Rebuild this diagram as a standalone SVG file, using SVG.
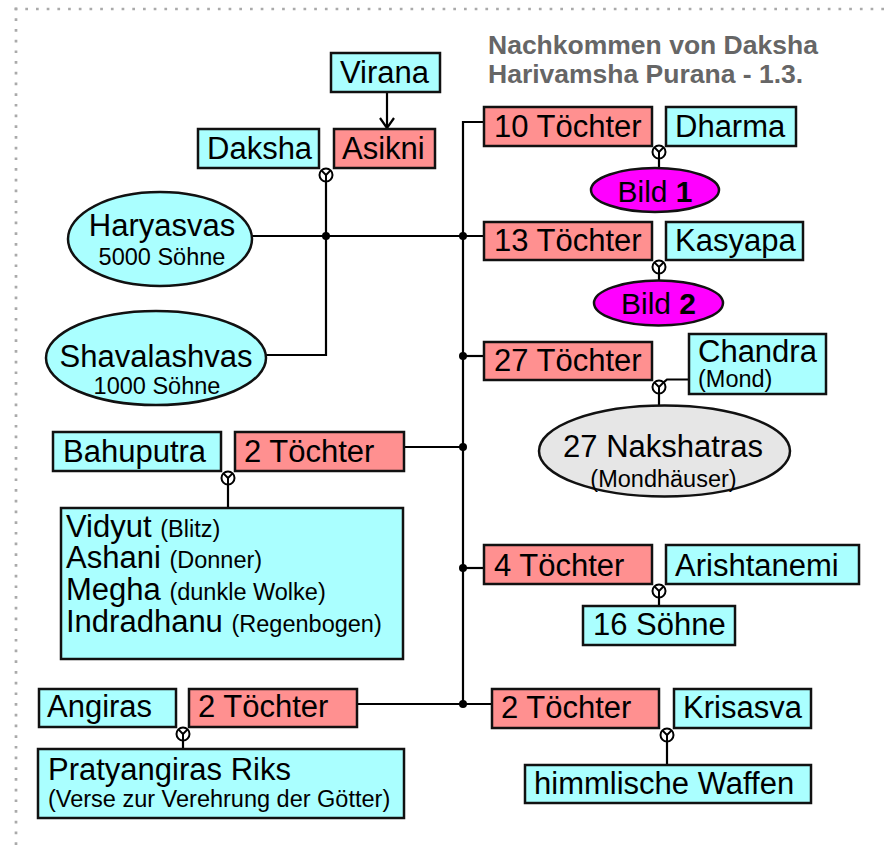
<svg xmlns="http://www.w3.org/2000/svg" width="885" height="845" viewBox="0 0 885 845">
<defs>
<style>
text{font-family:"Liberation Sans",Arial,Helvetica,sans-serif;fill:#000}
.t{font-size:31px}
.s{font-size:23.5px}
.c{text-anchor:middle}
.cy{fill:#aaffff;stroke:#111;stroke-width:2.5}
.rd{fill:#ff9090;stroke:#111;stroke-width:2.5}
.mg{fill:#ff00ff;stroke:#111;stroke-width:2.5}
.gr{fill:#e6e6e6;stroke:#111;stroke-width:2.5}
.ln{fill:none;stroke:#000;stroke-width:2.2}
.title{font-size:26.5px;font-weight:bold;fill:#666}
</style>
<g id="mar">
<circle cx="0" cy="0" r="6.5" fill="#fff" stroke="#000" stroke-width="2"/>
<path d="M-4.6,-4.6 L0,0 L4.6,-4.6 M0,0 L0,6.5" fill="none" stroke="#000" stroke-width="2"/>
</g>
<marker id="arr" markerWidth="14" markerHeight="18" refX="11" refY="8" orient="auto" markerUnits="userSpaceOnUse" viewBox="0 0 14 16">
<path d="M1,1 L11,8 L1,15" fill="none" stroke="#000" stroke-width="2.2"/>
</marker>
</defs>
<rect x="0" y="0" width="885" height="845" fill="#fff"/>
<g id="border" stroke="#aaa" stroke-width="2.7" stroke-dasharray="2.7 8">
<line x1="14.6" y1="9" x2="885" y2="9"/>
<line x1="16" y1="7.6" x2="16" y2="845"/>
</g>
<g id="title">
<text class="title" x="488" y="54">Nachkommen von Daksha</text>
<text class="title" x="488" y="83">Harivamsha Purana - 1.3.</text>
</g>
<g id="connectors">
<line class="ln" x1="387" y1="92" x2="387" y2="128" marker-end="url(#arr)"/>
<path class="ln" d="M326,181 V355 H266"/>
<path class="ln" d="M252,236 H484"/>
<path class="ln" d="M484,122 H463 V704"/>
<path class="ln" d="M463,356 H484"/>
<path class="ln" d="M404,447 H463"/>
<path class="ln" d="M463,568 H484"/>
<path class="ln" d="M357,704 H492"/>
<path class="ln" d="M659,158 V168"/>
<path class="ln" d="M659,273 V281"/>
<path class="ln" d="M659,393 V406"/>
<path class="ln" d="M663.6,382.4 L667,379.5 H689"/>
<path class="ln" d="M659,597 V606"/>
<path class="ln" d="M667,741 V765"/>
<path class="ln" d="M228,484 V508"/>
<path class="ln" d="M183,740 V749"/>
<g fill="#000">
<circle cx="326" cy="236" r="4"/>
<circle cx="463" cy="236" r="4"/>
<circle cx="463" cy="356" r="4"/>
<circle cx="463" cy="447" r="4"/>
<circle cx="463" cy="568" r="4"/>
<circle cx="463" cy="704" r="4"/>
</g>
<use href="#mar" x="326" y="175"/>
<use href="#mar" x="659" y="152"/>
<use href="#mar" x="659" y="267"/>
<use href="#mar" x="659" y="387"/>
<use href="#mar" x="659" y="591"/>
<use href="#mar" x="667" y="735"/>
<use href="#mar" x="228" y="478"/>
<use href="#mar" x="183" y="734"/>
</g>
<g id="virana"><rect class="cy" x="331" y="53" width="109" height="39"/><text class="t" x="340" y="83">Virana</text></g>
<g id="daksha"><rect class="cy" x="198" y="129" width="121" height="39"/><text class="t" x="207" y="159">Daksha</text></g>
<g id="asikni"><rect class="rd" x="334" y="129" width="101" height="39"/><text class="t" x="342" y="159">Asikni</text></g>
<g id="haryasvas"><ellipse class="cy" cx="160" cy="239" rx="92" ry="47"/><text class="t c" x="162" y="236">Haryasvas</text><text class="s c" x="162" y="265">5000 Söhne</text></g>
<g id="shavalashvas"><ellipse class="cy" cx="156" cy="358" rx="110" ry="47"/><text class="t c" x="156" y="367">Shavalashvas</text><text class="s c" x="157" y="394">1000 Söhne</text></g>
<g id="t10"><rect class="rd" x="484" y="107" width="168" height="39"/><text class="t" x="494" y="137">10 Töchter</text></g>
<g id="dharma"><rect class="cy" x="666" y="107" width="130" height="39"/><text class="t" x="675" y="137">Dharma</text></g>
<g id="bild1"><ellipse class="mg" cx="655" cy="190" rx="64" ry="22"/><text class="t c" x="655" y="202" style="font-size:30px">Bild <tspan font-weight="bold">1</tspan></text></g>
<g id="t13"><rect class="rd" x="484" y="222" width="168" height="38"/><text class="t" x="494" y="251">13 Töchter</text></g>
<g id="kasyapa"><rect class="cy" x="666" y="222" width="137" height="38"/><text class="t" x="675" y="251">Kasyapa</text></g>
<g id="bild2"><ellipse class="mg" cx="658.5" cy="303" rx="64.5" ry="22.5"/><text class="t c" x="658.5" y="314" style="font-size:30px">Bild <tspan font-weight="bold">2</tspan></text></g>
<g id="t27"><rect class="rd" x="484" y="342" width="168" height="38"/><text class="t" x="494" y="371">27 Töchter</text></g>
<g id="chandra"><rect class="cy" x="689" y="334" width="137" height="60"/><text class="t" x="698" y="362">Chandra</text><text class="s" x="698" y="387">(Mond)</text></g>
<g id="nakshatras"><ellipse class="gr" cx="664.5" cy="451" rx="125.5" ry="45.5"/><text class="t c" x="663" y="457">27 Nakshatras</text><text class="s c" x="663.5" y="487">(Mondhäuser)</text></g>
<g id="bahuputra"><rect class="cy" x="53" y="432" width="168" height="39"/><text class="t" x="63" y="462">Bahuputra</text></g>
<g id="t2a"><rect class="rd" x="235" y="432" width="169" height="39"/><text class="t" x="244" y="462">2 Töchter</text></g>
<g id="bahukids"><rect class="cy" x="61" y="508" width="342" height="151"/>
<text class="t" x="66" y="537">Vidyut <tspan class="s">(Blitz)</tspan></text>
<text class="t" x="66" y="568">Ashani <tspan class="s">(Donner)</tspan></text>
<text class="t" x="66" y="600">Megha <tspan class="s">(dunkle Wolke)</tspan></text>
<text class="t" x="66" y="632">Indradhanu <tspan class="s">(Regenbogen)</tspan></text>
</g>
<g id="t4"><rect class="rd" x="484" y="545" width="168" height="39"/><text class="t" x="494" y="576">4 Töchter</text></g>
<g id="arishtanemi"><rect class="cy" x="666" y="545" width="193" height="39"/><text class="t" x="675" y="576">Arishtanemi</text></g>
<g id="s16"><rect class="cy" x="583" y="606" width="152" height="39"/><text class="t" x="593" y="635">16 Söhne</text></g>
<g id="angiras"><rect class="cy" x="39" y="689" width="137" height="38"/><text class="t" x="47" y="717">Angiras</text></g>
<g id="t2b"><rect class="rd" x="189" y="689" width="168" height="38"/><text class="t" x="198" y="717">2 Töchter</text></g>
<g id="pratyangiras"><rect class="cy" x="38" y="749" width="366" height="69"/><text class="t" x="48" y="780">Pratyangiras Riks</text><text class="s" x="48" y="807">(Verse zur Verehrung der Götter)</text></g>
<g id="t2c"><rect class="rd" x="492" y="689" width="167" height="39"/><text class="t" x="501" y="718">2 Töchter</text></g>
<g id="krisasva"><rect class="cy" x="674" y="689" width="137" height="39"/><text class="t" x="683" y="718">Krisasva</text></g>
<g id="waffen"><rect class="cy" x="525" y="765" width="286" height="38"/><text class="t" x="534" y="794">himmlische Waffen</text></g>
</svg>
